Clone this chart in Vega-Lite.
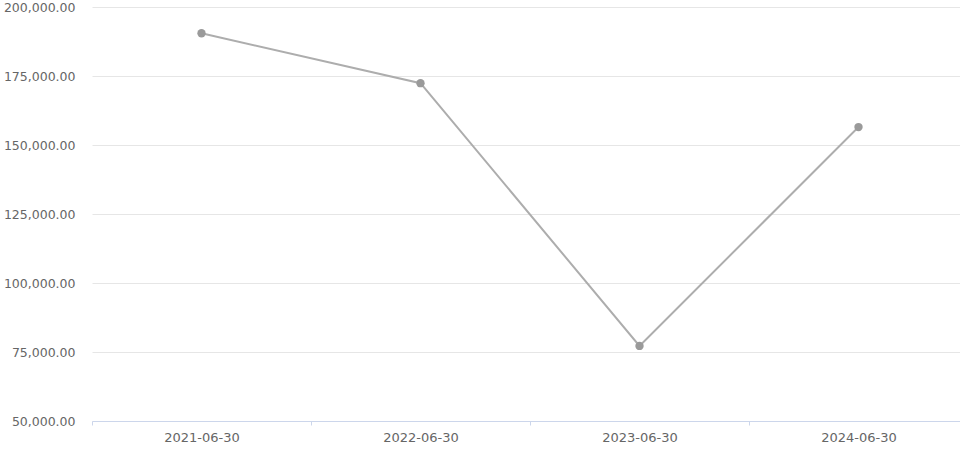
{
  "$schema": "https://vega.github.io/schema/vega-lite/v6.json",
  "autosize": {"type": "none"},
  "padding": {"left": 92, "top": 7, "right": 0, "bottom": 37},
  "width": 876,
  "height": 414,
  "background": "#ffffff",
  "config": {"view": {"stroke": null}, "font": "DejaVu Sans"},
  "data": {
    "values": [
      {"date": "2021-06-30", "value": 190500},
      {"date": "2022-06-30", "value": 172400},
      {"date": "2023-06-30", "value": 77200},
      {"date": "2024-06-30", "value": 156500}
    ]
  },
  "encoding": {
    "x": {
      "field": "date",
      "type": "ordinal",
      "scale": {"type": "band", "paddingInner": 0, "paddingOuter": 0},
      "axis": {
        "title": null,
        "labelAngle": 0,
        "tickBand": "extent",
        "domainColor": "#ccd6eb",
        "tickColor": "#ccd6eb",
        "tickSize": 4,
        "labelPadding": 6,
        "labelColor": "#666666",
        "labelFontSize": 13,
        "labelFont": "DejaVu Sans",
        "grid": false
      }
    },
    "y": {
      "field": "value",
      "type": "quantitative",
      "scale": {"domain": [50000, 200000], "nice": false, "zero": false},
      "axis": {
        "title": null,
        "values": [50000, 75000, 100000, 125000, 150000, 175000, 200000],
        "format": ",.2f",
        "domain": false,
        "ticks": false,
        "grid": true,
        "gridColor": "#e6e6e6",
        "labelPadding": 17,
        "labelColor": "#666666",
        "labelFontSize": 12.5,
        "labelFont": "DejaVu Sans"
      }
    }
  },
  "layer": [
    {"mark": {"type": "line", "color": "#adadad", "strokeWidth": 2}},
    {"mark": {"type": "point", "filled": true, "color": "#9a9a9a", "opacity": 1, "size": 70}}
  ]
}
